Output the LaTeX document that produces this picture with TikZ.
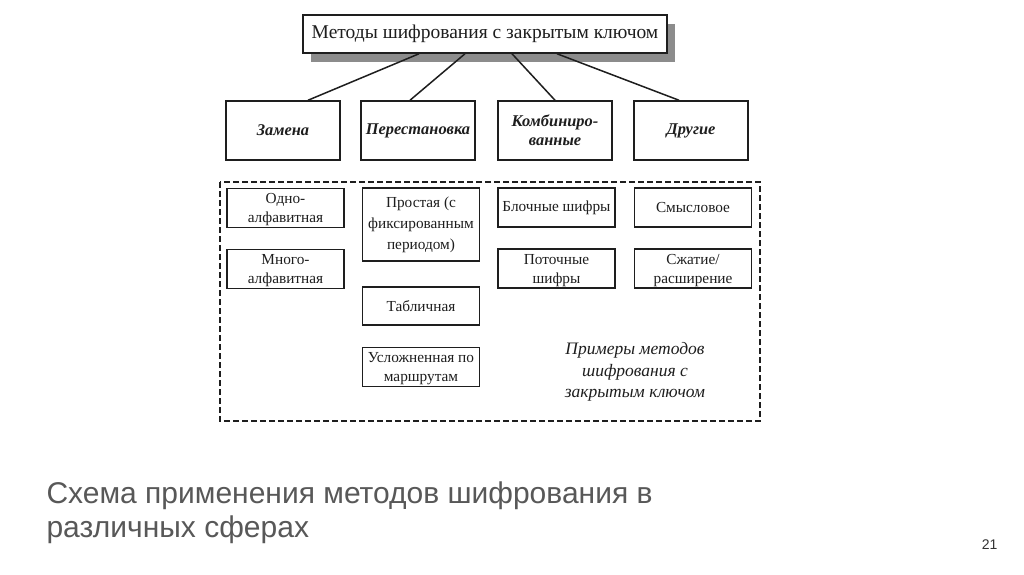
\documentclass[tikz,border=0pt]{standalone}
\usepackage{fontspec}
\setmainfont{Liberation Serif}
\newfontfamily\captionfont{Liberation Sans}
\usepackage{xcolor}
\definecolor{captiongray}{RGB}{88,88,88}
\definecolor{scanblack}{RGB}{30,30,30}
\usepackage{tikz}
\usetikzlibrary{shadows}
\newcommand{\widthgroup}{114pt}
\newcommand{\widthmethod}{117pt}
\tikzset{
    common/.style={draw=scanblack, text=scanblack, line width=1.5pt, align=center, inner sep=1pt},
    head/.style={common, fill=white, minimum width=364pt, minimum height=38pt,
        font=\fontsize{19.5}{21}\selectfont,
        general shadow={fill=black!45, shadow xshift=8pt, shadow yshift=-9pt}},
    group/.style={common, minimum width=\widthgroup, minimum height=59pt,
        font=\fontsize{16.4}{19}\selectfont\bfseries\itshape},
    method/.style={common, minimum width=\widthmethod, minimum height=39pt,
        font=\fontsize{15.3}{17.5}\selectfont},
    twoline/.style={method, font=\fontsize{15.3}{19}\selectfont, text height=31pt, text depth=2pt},
    link/.style={draw=scanblack, line width=1.5pt},
    frame/.style={draw=scanblack, line width=1.8pt, dash pattern=on 6pt off 3pt}
}

\begin{document}
\begin{tikzpicture}[x=1pt, y=-1pt]
  \useasboundingbox[fill=white] (0,0) rectangle (1024,574);

  % top of the scheme
  \node[head] (title) at (485,34) {Методы шифрования с закрытым ключом};

  \node[group] (zamena) at (283,130.5) {Замена};
  \node[group] (perest) at (418,130.5) {Перестановка};
  \node[group] (kombin) at (555,130.5) {Комбиниро-\\ванные};
  \node[group] (drugie) at (691,130.5) {Другие};

  \draw[link] ([xshift=-66]title.south) -- ([xshift=25]zamena.north);
  \draw[link] ([xshift=-20]title.south) -- ([xshift=-8]perest.north);
  \draw[link] ([xshift=27]title.south) -- (kombin.north);
  \draw[link] ([xshift=72]title.south) -- ([xshift=-12]drugie.north);

  % examples
  \draw[frame] (220,182) rectangle (760,421);

  \node[twoline] (odno) at (285.5,208) {Одно-\\алфавитная};
  \node[twoline] (mnogo) at (285.5,269) {Много-\\алфавитная};

  \node[method, minimum height=73pt, font=\fontsize{15.3}{21}\selectfont] (prostaya) at (421,224.5) {Простая (с\\фиксированным\\периодом)};
  \node[method, minimum height=38pt] (tablich) at (421,306) {Табличная};
  \node[twoline] (uslozh) at (421,367) {Усложненная по\\маршрутам};

  \node[method] (blochn) at (556.5,207.5) {Блочные шифры};
  \node[twoline] (potoch) at (556.5,268.5) {Поточные\\шифры};

  \node[method] (smysl) at (693,207.5) {Смысловое};
  \node[twoline] (szhat) at (693,268.5) {Сжатие/\\расширение};

  \node[text=scanblack, align=center, font=\fontsize{17.5}{21.5}\selectfont\itshape] (primery) at (635,372)
    {Примеры методов\\шифрования с\\закрытым ключом};

  % caption
  \node[anchor=base west, text=captiongray, font=\captionfont\fontsize{30}{34}\selectfont] (caption) at (43,503)
    {Схема применения методов шифрования в};
  \node[anchor=base west, text=captiongray, font=\captionfont\fontsize{30}{34}\selectfont] (caption2) at (43,537)
    {различных сферах};
  \node[anchor=base east, text=black!80, font=\captionfont\fontsize{14}{16}\selectfont] (pagenum) at (1001,549) {21};
\end{tikzpicture}
\end{document}
